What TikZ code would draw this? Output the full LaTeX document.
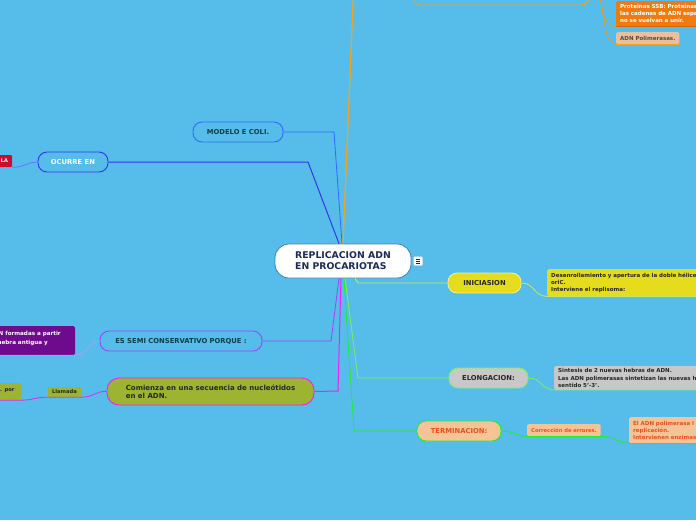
\documentclass[tikz,border=0pt]{standalone}
\usepackage{fontspec}
\setmainfont{DejaVu Sans}
\usetikzlibrary{calc}
\definecolor{bg}{RGB}{86,189,235}
\definecolor{cblue}{RGB}{46,107,255}
\definecolor{cindigo}{RGB}{52,52,240}
\definecolor{corange}{RGB}{245,160,30}
\definecolor{cpurple}{RGB}{155,69,255}
\definecolor{cmagenta}{RGB}{240,32,240}
\definecolor{cyellowg}{RGB}{200,230,90}
\definecolor{clgreen}{RGB}{124,240,90}
\definecolor{cgreen}{RGB}{32,240,32}
\definecolor{fyellow}{RGB}{230,220,30}
\definecolor{fgray}{RGB}{200,200,200}
\definecolor{fpeach}{RGB}{245,196,150}
\definecolor{forange}{RGB}{240,122,16}
\definecolor{fbeige}{RGB}{230,192,160}
\definecolor{folive}{RGB}{156,180,49}
\definecolor{fpurple}{RGB}{110,10,140}
\definecolor{fred}{RGB}{200,16,46}
\definecolor{tteal}{RGB}{11,61,74}
\definecolor{tnavy}{RGB}{26,42,90}
\definecolor{tred}{RGB}{232,80,26}
\definecolor{tbrown}{RGB}{90,74,58}
\begin{document}
\begin{tikzpicture}[x=1pt,y=-1pt,
  pill/.style={rectangle,rounded corners=9pt,draw,line width=0.9pt,minimum height=20pt,inner sep=0pt,font=\fontsize{6.8}{8}\selectfont\bfseries},
  note/.style={rectangle,rounded corners=1.5pt,inner xsep=4pt,inner ysep=2.5pt,align=left,font=\fontsize{5.5}{7.2}\selectfont\bfseries},
  conn/.style={line width=0.8pt}]
\useasboundingbox[fill=bg] (0,0) rectangle (696,520);

% central node
\node[rectangle,rounded corners=14pt,draw=tnavy!40!bg,line width=0.8pt,fill=white,minimum width=136pt,minimum height=34pt,align=left,text=tnavy,font=\fontsize{9.3}{11}\selectfont\bfseries] (center) at (343,261) {REPLICACION ADN\\EN PROCARIOTAS};
\node[rectangle,rounded corners=1pt,fill=white,draw=tnavy!25!white,line width=0.3pt,minimum width=9pt,minimum height=9pt,inner sep=0pt] (noteicon) at (418,261) {};
\draw[tnavy,line width=0.6pt] ($(noteicon.center)+(-2.2,-2)$) -- ++(4.4,0) ($(noteicon.center)+(-2.2,0)$) -- ++(4.4,0) ($(noteicon.center)+(-2.2,2)$) -- ++(4.4,0);

% left upper
\node[pill,draw=cblue,text=tteal,minimum width=90pt] (modelo) at (238,132) {MODELO E COLI.};
\node[pill,draw=cindigo,text=white,minimum width=70pt] (ocurre) at (73,162) {OCURRE EN};
\node[rectangle,rounded corners=1pt,fill=fred,text=white,minimum width=16pt,minimum height=12pt,inner sep=0pt,font=\fontsize{5}{6}\selectfont\bfseries] (la) at (4,161) {\hspace*{1pt}LA};

% left lower
\node[pill,draw=cpurple,text=tteal,minimum width=162pt] (semi) at (181,341) {ES SEMI CONSERVATIVO PORQUE :};
\node[rectangle,rounded corners=1.5pt,fill=fpurple,minimum width=115pt,minimum height=29pt,inner sep=0pt] (purplebox) at (17.5,340.5) {};
\node[anchor=base west,inner sep=0pt,text=white,font=\fontsize{5.6}{7}\selectfont\bfseries] (ptext1) at (-1.5,335) {N formadas a partir};
\node[anchor=base west,inner sep=0pt,text=white,font=\fontsize{5.6}{7}\selectfont\bfseries] (ptext2) at (-2.5,344) {hebra antigua y};

\node[pill,draw=cmagenta,fill=folive,text=black!85,minimum width=207pt,minimum height=27pt,rounded corners=12pt,align=left,font=\fontsize{7}{8}\selectfont\bfseries] (comienza) at (210.5,391.5) {Comienza en una secuencia de nucleótidos\\en el ADN.};
\node[rectangle,rounded corners=1pt,fill=folive,text=black!85,minimum width=33pt,minimum height=10pt,inner sep=0pt,font=\fontsize{5.2}{6}\selectfont\bfseries] (llamada) at (64.5,392) {Llamada};
\node[rectangle,rounded corners=1.5pt,fill=folive,minimum width=41pt,minimum height=17pt,inner sep=0pt] (porbox) at (0.5,391.5) {};
\node[anchor=base west,inner sep=0pt,text=black!85,font=\fontsize{5.2}{6}\selectfont\bfseries] (portext) at (0,391) {. por};

% top
\node[rectangle,rounded corners=8pt,draw=corange,line width=0.8pt,minimum width=176pt,minimum height=40pt] (topbox) at (501,-15) {};
\node[note,anchor=north west,fill=forange,text=white,text width=120pt,minimum height=25pt] (ssb) at (616,1) {Proteinas SSB: Proteinas que\\las cadenas de ADN separadas\\no se vuelvan a unir.};
\node[note,anchor=north west,fill=fbeige,text=tbrown,minimum height=12pt,inner ysep=1pt] (adnpol) at (616,32) {ADN Polimerasas.};

% right side
\node[pill,draw=fyellow!50!white,fill=fyellow,text=black!85,minimum width=73pt] (inicia) at (484.5,283) {INICIASION};
\node[note,anchor=north west,fill=fyellow,text=black!85,text width=190pt,minimum height=27pt] (yellowbox) at (547,269) {Desenrollamiento y apertura de la doble hélice en\\oriC.\\Interviene el replisoma:};

\node[pill,draw=clgreen,fill=fgray,text=black!85,minimum width=79pt] (elonga) at (488.5,378) {ELONGACION:};
\node[note,anchor=north west,fill=fgray,text=black!85,text width=190pt,minimum height=23pt] (graybox) at (554,366) {Sintesis de 2 nuevas hebras de ADN.\\Las ADN polimerasas sintetizan las nuevas hebras en\\sentido 5'-3'.};

\node[pill,draw=cgreen,fill=fpeach,text=tred,minimum width=84pt] (termina) at (459,431) {TERMINACION:};
\node[note,anchor=north west,fill=fpeach,text=tred,minimum height=12pt,inner ysep=1pt,font=\fontsize{5.2}{7}\selectfont\bfseries] (correc) at (527,424) {Corrección de errores.};
\node[note,anchor=north west,fill=fpeach,text=tred,text width=110pt,minimum height=26pt] (peachbox) at (629,417) {El ADN polimerasa I elimina\\replicación.\\Intervienen enzimas};

% connectors
\draw[conn,cblue] (modelo.east) -- (334,132) -- ($(center.north)+(-1,0)$);
\draw[conn,cindigo,line width=1pt] (ocurre.east) -- (308,162) -- ($(center.north)+(-4,0)$);
\draw[conn,corange,line width=1.3pt] ($(center.north)+(0,0)$) -- (354,-20);
\draw[conn,cindigo!70!white] (la.south east) .. controls (22,168) and (28,162) .. (ocurre.west);
\draw[conn,cpurple] (semi.east) -- (331,341) -- ($(center.south)+(-4,0)$);
\draw[conn,cpurple!60!white] (purplebox.south west) -- (purplebox.south east) .. controls (88,355) and (88,341) .. (semi.west);
\draw[conn,cmagenta,line width=1pt] (comienza.east) -- (338,391) -- ($(center.south)+(-2,0)$);
\draw[conn,cmagenta] (porbox.south west) -- (porbox.south east) .. controls (34,400) and (36,397) .. (llamada.south west) -- (llamada.south east) .. controls (95,397) and (95,391) .. (comienza.west);
\draw[conn,cyellowg] ($(center.south)+(12,0)$) -- (358,283) -- (inicia.west);
\draw[conn,cyellowg] (inicia.east) .. controls (535,283) and (533,296) .. (yellowbox.south west) -- (yellowbox.south east);
\draw[conn,clgreen] ($(center.south)+(2,0)$) -- (358,378) -- (elonga.west);
\draw[conn,clgreen] (elonga.east) .. controls (542,378) and (540,389) .. (graybox.south west) -- (graybox.south east);
\draw[conn,cgreen] ($(center.south)+(1,0)$) -- (354,431) -- (termina.west);
\draw[conn,cgreen] (termina.east) .. controls (515,431) and (513,436) .. (correc.south west) -- (correc.south east) .. controls (617,436) and (615,443) .. (peachbox.south west) -- (peachbox.south east);
\coordinate (topsrc) at (598,-10);
\draw[conn,corange!80!brown] (topsrc) .. controls (604,10) and (602,26) .. (ssb.south west);
\draw[conn,corange!80!brown] (topsrc) .. controls (606,20) and (604,44) .. (adnpol.south west);
\draw[conn,forange!85!black] (ssb.south west) -- (ssb.south east);
\draw[conn,corange] (adnpol.south west) -- (adnpol.south east);
\end{tikzpicture}
\end{document}
